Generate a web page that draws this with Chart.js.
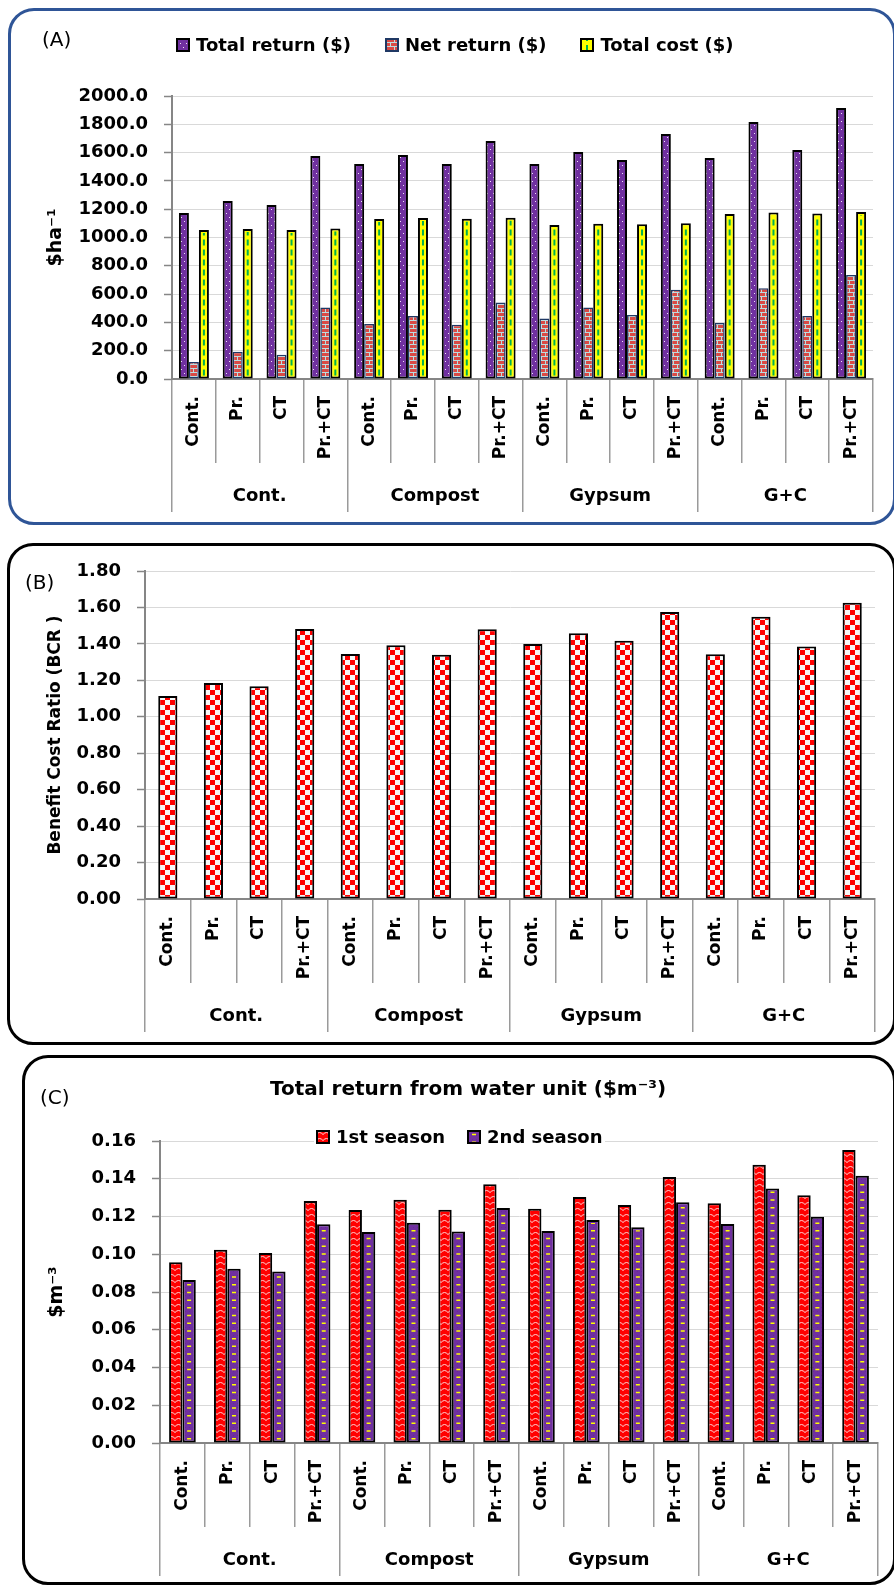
<!DOCTYPE html>
<html>
<head>
<meta charset="utf-8">
<title>Economic returns by amendment and tillage</title>
<script src="https://cdn.jsdelivr.net/npm/chart.js@4.4.1/dist/chart.umd.min.js"></script>
<style>
  html, body { margin: 0; padding: 0; background: #fff; }
  body { position: relative; width: 894px; height: 1585px; overflow: hidden; font-family: 'DejaVu Sans', sans-serif; color: #000; }
  .panel { position: absolute; box-sizing: border-box; border: 3px solid #000; border-radius: 26px; }
  #panelA { left: 8px; top: 8px; width: 888px; height: 517px; border-color: #2f5597; }
  #panelB { left: 7px; top: 543px; width: 889px; height: 502px; }
  #panelC { left: 22px; top: 1055px; width: 874px; height: 530px; }
  canvas.chart { position: absolute; left: 0; }
  .tag { position: absolute; font-size: 20px; line-height: 24px; }
  .legend { position: absolute; display: flex; align-items: center; font-weight: bold; font-size: 18px; line-height: 20px; background: #fff; white-space: nowrap; }
  .legend .item { display: flex; align-items: center; gap: 6px; }
  .legend canvas { display: block; }
  .title { position: absolute; font-weight: bold; font-size: 20px; line-height: 24px; white-space: nowrap; }
</style>
</head>
<body>
<div class="panel" id="panelA"></div>
<div class="panel" id="panelB"></div>
<div class="panel" id="panelC"></div>

<canvas id="chartA" class="chart" width="894" height="525" style="top:0"></canvas>
<canvas id="chartB" class="chart" width="894" height="500" style="top:540px"></canvas>
<canvas id="chartC" class="chart" width="894" height="535" style="top:1050px"></canvas>

<div class="tag" style="left:42px;top:27px">(A)</div>
<div class="legend" id="legendA" style="left:176px;top:35px;gap:34px"></div>

<div class="tag" style="left:25px;top:570px">(B)</div>

<div class="tag" style="left:40px;top:1085px">(C)</div>
<div class="title" style="left:270px;top:1076px">Total return from water unit ($m⁻³)</div>
<div class="legend" id="legendC" style="left:314px;top:1127px;gap:22px;padding:0 2px"></div>

<script>
'use strict';

// ---- data -------------------------------------------------------------
const treatments = ['Cont.', 'Pr.', 'CT', 'Pr.+CT'];
const amendments = ['Cont.', 'Compost', 'Gypsum', 'G+C'];
const categories = amendments.flatMap(() => treatments);

// (A) $ per ha
const totalReturn = [1173, 1258, 1230, 1576, 1519, 1583, 1519, 1682, 1519, 1604, 1548, 1731, 1562, 1816, 1618, 1915];
const netReturn   = [120, 193, 172, 505, 389, 445, 384, 540, 427, 505, 453, 630, 396, 642, 446, 735];
const totalCost   = [1053, 1060, 1053, 1063, 1130, 1137, 1133, 1140, 1088, 1097, 1093, 1100, 1166, 1176, 1170, 1180];

// (B) benefit cost ratio
const bcr = [1.114, 1.186, 1.168, 1.482, 1.344, 1.392, 1.341, 1.480, 1.400, 1.458, 1.417, 1.575, 1.343, 1.549, 1.385, 1.626];

// (C) $ per m3 of water
const season1 = [0.0957, 0.1024, 0.1007, 0.1282, 0.1234, 0.1289, 0.1236, 0.1371, 0.1241, 0.1303, 0.1261, 0.1409, 0.1270, 0.1474, 0.1312, 0.1552];
const season2 = [0.0864, 0.0923, 0.0908, 0.1159, 0.1118, 0.1167, 0.1120, 0.1245, 0.1123, 0.1181, 0.1143, 0.1275, 0.1160, 0.1349, 0.1199, 0.1416];

// y axis ranges: [min, max, step, decimals]
const yTicksA = [0, 2000, 200, 1];
const yTicksB = [0, 1.8, 0.2, 2];
const yTicksC = [0, 0.16, 0.02, 2];

// ---- look -------------------------------------------------------------
const AXIS = '#868686';
const SEP = '#9a9a9a';
const GRID = '#d9d9d9';

Chart.defaults.font.family = "'DejaVu Sans', sans-serif";
Chart.defaults.font.weight = 'bold';
Chart.defaults.font.size = 18;
Chart.defaults.color = '#000';
Chart.defaults.animation = false;

function tile(w, h, paint) {
  const c = document.createElement('canvas');
  c.width = w; c.height = h;
  const g = c.getContext('2d');
  paint(g);
  return g.createPattern(c, 'repeat');
}

const dotsPurple = tile(6, 8, g => {
  g.fillStyle = '#7030a0'; g.fillRect(0, 0, 6, 8);
  g.fillStyle = '#efe4f7'; g.fillRect(1, 1, 1, 1); g.fillRect(4, 5, 1, 1);
});
const brickRed = tile(8, 8, g => {
  g.fillStyle = '#d94a45'; g.fillRect(0, 0, 8, 8);
  g.fillStyle = '#bcdde0';
  g.fillRect(0, 0, 8, 1); g.fillRect(0, 4, 8, 1);
  g.fillRect(1, 1, 1, 3); g.fillRect(5, 5, 1, 3);
});
const checkRed = tile(10, 10, g => {
  g.fillStyle = '#f7f7f7'; g.fillRect(0, 0, 10, 10);
  g.fillStyle = '#ff0000'; g.fillRect(0, 0, 5, 5); g.fillRect(5, 5, 5, 5);
});
const waveRed = tile(7, 6, g => {
  g.fillStyle = '#ff0000'; g.fillRect(0, 0, 7, 6);
  g.strokeStyle = '#ffd6d6'; g.lineWidth = 1;
  g.beginPath(); g.moveTo(0, 4.5); g.quadraticCurveTo(3.5, 0.5, 7, 4.5); g.stroke();
});
const plainPurple = tile(4, 4, g => {
  g.fillStyle = '#7030a0'; g.fillRect(0, 0, 4, 4);
  g.fillStyle = '#65299a'; g.fillRect(1, 1, 1, 1);
});

// dashes drawn down the middle of each bar of a dataset
const centreDashes = {
  id: 'centreDashes',
  afterDatasetsDraw(chart, args, opts) {
    const ctx = chart.ctx;
    (opts.sets || []).forEach(s => {
      const meta = chart.getDatasetMeta(s.index);
      ctx.save();
      ctx.strokeStyle = s.color;
      ctx.lineWidth = s.width;
      ctx.setLineDash(s.dash);
      meta.data.forEach(bar => {
        const { x, y, base } = bar.getProps(['x', 'y', 'base'], true);
        ctx.beginPath();
        ctx.moveTo(x, base - 3);
        ctx.lineTo(x, y + 3);
        ctx.stroke();
      });
      ctx.restore();
    });
  }
};

function scalesFor(yr, yTitle, titleSize, yWidth) {
  const [min, max, step, digits] = yr;
  return {
    x: {
      weight: 1,
      offset: true,
      grid: { offset: true, drawOnChartArea: false, tickLength: 84, color: SEP, lineWidth: 1.5 },
      border: { color: AXIS, width: 2 },
      ticks: { minRotation: 90, maxRotation: 90, autoSkip: false, padding: -67, font: { size: 17 } },
      afterFit: s => { s.height = 84; }
    },
    groups: {
      type: 'category',
      labels: amendments,
      position: 'bottom',
      weight: 2,
      offset: true,
      grid: { offset: true, drawOnChartArea: false, tickLength: 49, color: SEP, lineWidth: 1.5 },
      border: { display: false },
      ticks: { padding: -26, font: { size: 18 } },
      afterFit: s => { s.height = 49; }
    },
    y: {
      min, max,
      ticks: { stepSize: step, padding: 16, font: { size: 18 }, callback: v => v.toFixed(digits) },
      grid: { color: GRID, tickLength: 8, tickColor: AXIS, tickWidth: 1.5 },
      border: { color: AXIS, width: 2 },
      title: { display: true, text: yTitle, font: { size: titleSize }, padding: 0 },
      afterFit: s => { s.width = yWidth; }
    }
  };
}

function buildLegend(el, chart, dashes) {
  chart.data.datasets.forEach((ds, i) => {
    const item = document.createElement('div');
    item.className = 'item';
    const sw = document.createElement('canvas');
    sw.width = 14; sw.height = 14;
    const g = sw.getContext('2d');
    g.fillStyle = ds.backgroundColor;
    g.fillRect(0, 0, 14, 14);
    const d = dashes[i];
    if (d) {
      g.strokeStyle = d.color; g.lineWidth = d.width; g.setLineDash(d.dash);
      g.beginPath(); g.moveTo(7, 13); g.lineTo(7, 1); g.stroke();
      g.setLineDash([]);
    }
    g.strokeStyle = ds.borderColor; g.lineWidth = 2;
    g.strokeRect(1, 1, 12, 12);
    const span = document.createElement('span');
    span.textContent = ds.label;
    item.append(sw, span);
    el.appendChild(item);
  });
}

// ---- (A) total return / net return / total cost ----------------------
const dashA = { index: 2, color: '#00b050', width: 2, dash: [6, 4] };
const chartA = new Chart(document.getElementById('chartA'), {
  type: 'bar',
  plugins: [centreDashes],
  data: {
    labels: categories,
    datasets: [
      { label: 'Total return ($)', data: totalReturn, xAxisID: 'x', backgroundColor: dotsPurple, borderColor: '#000', borderWidth: 2, borderSkipped: false },
      { label: 'Net return ($)', data: netReturn, xAxisID: 'x', backgroundColor: brickRed, borderColor: '#1f3864', borderWidth: 1.5, borderSkipped: false },
      { label: 'Total cost ($)', data: totalCost, xAxisID: 'x', backgroundColor: '#ffff00', borderColor: '#000', borderWidth: 2, borderSkipped: false }
    ]
  },
  options: {
    responsive: false,
    categoryPercentage: 0.685,
    barPercentage: 1,
    layout: { padding: { top: 96, right: 21, bottom: 13, left: 45 } },
    plugins: { legend: { display: false }, tooltip: { enabled: false }, centreDashes: { sets: [dashA] } },
    scales: scalesFor(yTicksA, '$ha⁻¹', 19, 127)
  }
});
buildLegend(document.getElementById('legendA'), chartA, [null, null, dashA]);

// ---- (B) benefit cost ratio ------------------------------------------
new Chart(document.getElementById('chartB'), {
  type: 'bar',
  data: {
    labels: categories,
    datasets: [
      { label: 'BCR', data: bcr, xAxisID: 'x', backgroundColor: checkRed, borderColor: '#000', borderWidth: 2, borderSkipped: false }
    ]
  },
  options: {
    responsive: false,
    categoryPercentage: 0.42,
    barPercentage: 1,
    layout: { padding: { top: 31, right: 19, bottom: 8, left: 45 } },
    plugins: { legend: { display: false }, tooltip: { enabled: false } },
    scales: scalesFor(yTicksB, 'Benefit Cost Ratio (BCR )', 17, 100)
  }
});

// ---- (C) total return from water unit --------------------------------
const dashC = { index: 1, color: '#ffff00', width: 4, dash: [1.5, 6.2] };
const chartC = new Chart(document.getElementById('chartC'), {
  type: 'bar',
  plugins: [centreDashes],
  data: {
    labels: categories,
    datasets: [
      { label: '1st season', data: season1, xAxisID: 'x', backgroundColor: waveRed, borderColor: '#000', borderWidth: 2, borderSkipped: false },
      { label: '2nd season', data: season2, xAxisID: 'x', backgroundColor: plainPurple, borderColor: '#000', borderWidth: 2, borderSkipped: false }
    ]
  },
  options: {
    responsive: false,
    categoryPercentage: 0.595,
    barPercentage: 1,
    layout: { padding: { top: 91, right: 16, bottom: 9, left: 46 } },
    plugins: { legend: { display: false }, tooltip: { enabled: false }, centreDashes: { sets: [dashC] } },
    scales: scalesFor(yTicksC, '$m⁻³', 19, 114)
  }
});
buildLegend(document.getElementById('legendC'), chartC, [null, dashC]);
</script>
</body>
</html>
